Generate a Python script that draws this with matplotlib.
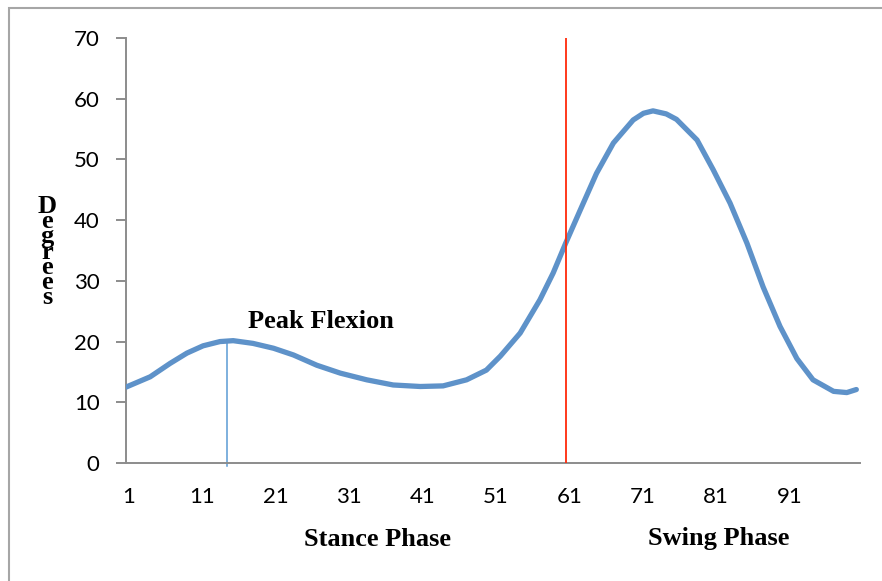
"""
Knee flexion over the gait cycle (stance / swing)
"""
import matplotlib
matplotlib.use('Agg')
import matplotlib.pyplot as plt
import matplotlib.transforms as mtransforms
from matplotlib.patches import Rectangle

# gait cycle position (%) and knee angle (degrees)
cycle = [1.0, 4.3, 7.0, 9.3, 11.5, 13.8, 15.6, 18.3, 21.1, 23.8, 27.0, 30.2,
         33.8, 37.4, 41.1, 44.2, 47.4, 50.1, 52.0, 54.7, 57.4, 59.2, 60.9,
         62.9, 65.1, 67.4, 70.1, 71.5, 72.8, 74.6, 76.0, 78.8, 81.0, 83.3,
         85.6, 87.8, 90.1, 92.4, 94.6, 97.4, 99.2, 100.5]
degrees = [12.5, 14.2, 16.4, 18.1, 19.3, 20.0, 20.15, 19.7, 18.9, 17.8, 16.1,
           14.8, 13.7, 12.85, 12.6, 12.7, 13.7, 15.3, 17.6, 21.4, 26.9, 31.3,
           36.2, 41.7, 47.7, 52.7, 56.5, 57.6, 58.0, 57.5, 56.6, 53.2, 48.3,
           42.8, 36.2, 29.0, 22.5, 17.2, 13.7, 11.8, 11.6, 12.1]

x_labels = [1, 11, 21, 31, 41, 51, 61, 71, 81, 91]
y_ticks = [0, 10, 20, 30, 40, 50, 60, 70]
peak_x, peak_y = 14.7, 20.1
toe_off = 61

fig = plt.figure(figsize=(8.82, 5.81), dpi=100)
ax = fig.add_axes([126 / 882, 1 - 463 / 581, (860 - 126) / 882, (463 - 38) / 581])

# outer chart frame
fig.patches.append(Rectangle((9 / 882, -0.1), 1.2, 1 - 8 / 581 + 0.1,
                             transform=fig.transFigure, fill=False,
                             edgecolor='#a6a6a6', linewidth=1.5))

ax.plot(cycle, degrees, color='#5e92c9', linewidth=3.8, solid_capstyle='round',
        solid_joinstyle='round', zorder=3)
ax.plot([peak_x, peak_x], [-0.5, peak_y], color='#5b9bd5', linewidth=1.1, clip_on=False)
ax.plot([toe_off, toe_off], [0, 70], color='#ff2a0a', linewidth=1.3, zorder=4)

ax.set_xlim(1, 101)
ax.set_ylim(0, 70)

for side in ['top', 'right']:
    ax.spines[side].set_visible(False)
for side in ['left', 'bottom']:
    ax.spines[side].set_color('#8c8c8c')
    ax.spines[side].set_linewidth(1.4)

tick_font = dict(family='Lato', size=16)
ax.set_yticks(y_ticks)
ax.set_yticklabels([str(v) for v in y_ticks], **tick_font)
ax.tick_params(axis='y', length=7, width=1.4, color='#8c8c8c', pad=12)

ax.set_xticks(x_labels)
ax.set_xticklabels([str(v) for v in x_labels], **tick_font)
ax.tick_params(axis='x', length=0, pad=17)
# Excel puts the category labels a few pixels right of the tick
shift = mtransforms.ScaledTranslation(3 / 100, 0, fig.dpi_scale_trans)
for lbl in ax.get_xticklabels():
    lbl.set_transform(lbl.get_transform() + shift)
ax.set_xticks([1, 61], minor=True)
ax.tick_params(axis='x', which='minor', length=7, width=1.4, color='#8c8c8c')

bold = dict(family='Liberation Serif', weight='bold', size=19)
ax.text(17.6, 23.3, 'Peak Flexion', ha='left', va='center', **bold)
fig.text(378 / 882, 1 - 540 / 581, 'Stance Phase', ha='center', va='center', **bold)
fig.text(719 / 882, 1 - 538 / 581, 'Swing Phase', ha='center', va='center', **bold)
fig.text(47 / 882, 1 - 252 / 581, '\n'.join('Degrees'), ha='center', va='center',
         linespacing=0.57, **bold)

plt.savefig('out.png', dpi=100)
plt.close()
